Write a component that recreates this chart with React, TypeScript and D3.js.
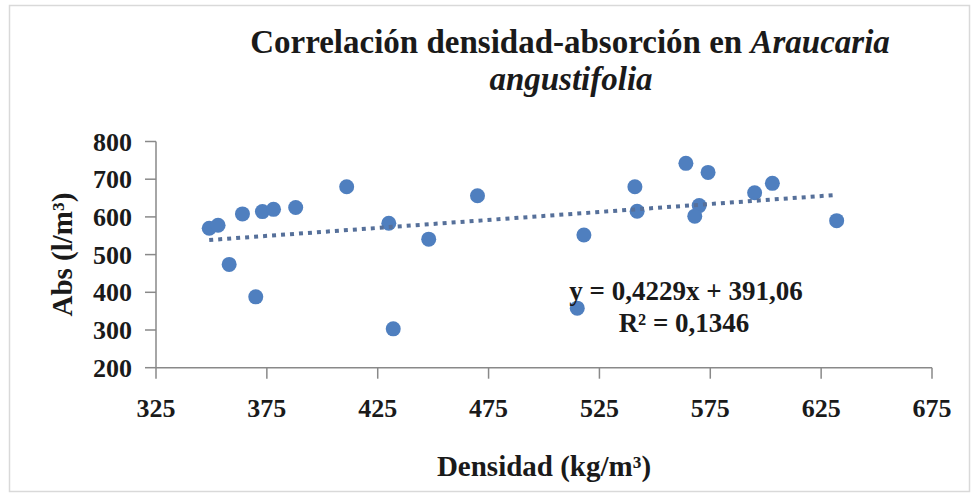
import React from "react";
import * as d3 from "d3";

const densidad = [349, 353, 364, 373, 378, 388, 411, 430, 448, 470, 358, 370, 432, 541, 542, 518, 564, 574, 570, 568, 595, 603, 632, 515];
const absorcion = [570, 578, 608, 614, 620, 625, 680, 583, 541, 656, 474, 388, 303, 680, 615, 552, 742, 718, 630, 602, 664, 689, 590, 358];
const xTicks = [325, 375, 425, 475, 525, 575, 625, 675];
const yTicks = [200, 300, 400, 500, 600, 700, 800];
const slope = 0.4229;
const intercept = 391.06;
const eqLabel = "y = 0,4229x + 391,06";
const r2Label = "R² = 0,1346";

const W = 972;
const H = 497;
const FONT = "'Liberation Serif', 'Times New Roman', serif";
const AXIS = "#898989";
const DOT = "#4f7fbf";
const TREND = "#56709a";

export default function App() {
  const x = d3.scaleLinear().domain([325, 675]).range([156, 932]);
  const y = d3.scaleLinear().domain([200, 800]).range([367.7, 141.5]);
  const x0 = d3.min(densidad) as number;
  const x1 = d3.max(densidad) as number;
  const line = d3.line<number>().x((d) => x(d)).y((d) => y(slope * d + intercept));
  const pts = densidad.map((d, i) => [d, absorcion[i]]);
  const [xa, xb] = x.range();
  const [ya, yb] = y.range();
  return (
    <svg width={W} height={H} style={{ position: "absolute", left: 0, top: 0, background: "#fff" }} fontFamily={FONT}>
      <rect x={0} y={0} width={W} height={H} fill="#fff" />
      <rect x={9.5} y={5.5} width={960} height={486} fill="#fff" stroke="#d9d9d9" strokeWidth={1.5} />
      <text x={570} y={53} textAnchor="middle" fontSize={33} fontWeight="bold" fill="#1a1a1a">
        Correlación densidad-absorción en <tspan fontStyle="italic">Araucaria</tspan>
      </text>
      <text x={571} y={90} textAnchor="middle" fontSize={33} fontWeight="bold" fontStyle="italic" fill="#1a1a1a">
        angustifolia
      </text>
      {/* axes */}
      <line x1={xa} x2={xb} y1={ya} y2={ya} stroke={AXIS} strokeWidth={1.5} />
      <line x1={xa} x2={xa} y1={ya} y2={yb} stroke={AXIS} strokeWidth={1.5} />
      {xTicks.map((t) => (
        <g key={"x" + t}>
          <line x1={x(t)} x2={x(t)} y1={ya} y2={ya + 11} stroke={AXIS} strokeWidth={1.5} />
          <text x={x(t)} y={417} textAnchor="middle" fontSize={26} fontWeight="bold" fill="#1a1a1a">
            {t}
          </text>
        </g>
      ))}
      {yTicks.map((t) => (
        <g key={"y" + t}>
          <line x1={xa - 11} x2={xa} y1={y(t)} y2={y(t)} stroke={AXIS} strokeWidth={1.5} />
          <text x={132} y={y(t) + 9} textAnchor="end" fontSize={26} fontWeight="bold" fill="#1a1a1a">
            {t}
          </text>
        </g>
      ))}
      <text x={(xa + xb) / 2} y={476} textAnchor="middle" fontSize={29} fontWeight="bold" fill="#1a1a1a">
        Densidad (kg/m³)
      </text>
      <text transform={`translate(72, ${(ya + yb) / 2}) rotate(-90)`} textAnchor="middle" fontSize={29} fontWeight="bold" fill="#1a1a1a">
        Abs (l/m³)
      </text>
      {/* points */}
      {pts.map(([a, b], i) => (
        <circle key={i} cx={x(a)} cy={y(b)} r={7.5} fill={DOT} />
      ))}
      {/* trendline */}
      <path d={line([x0, x1]) || ""} fill="none" stroke={TREND} strokeWidth={4} strokeDasharray="4,5" />
      <text x={686} y={300} textAnchor="middle" fontSize={27} fontWeight="bold" fill="#1a1a1a">
        {eqLabel}
      </text>
      <text x={684} y={332} textAnchor="middle" fontSize={27} fontWeight="bold" fill="#1a1a1a">
        {r2Label}
      </text>
    </svg>
  );
}
